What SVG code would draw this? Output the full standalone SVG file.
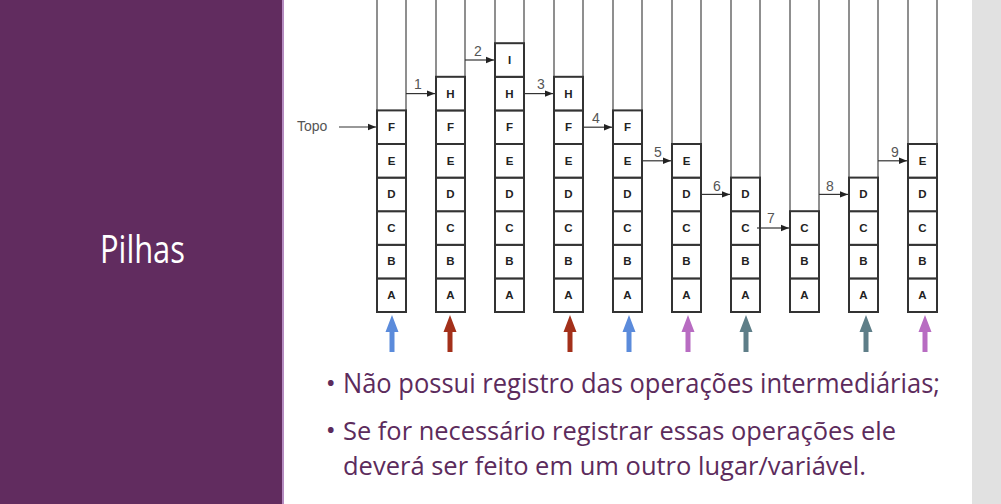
<svg xmlns="http://www.w3.org/2000/svg" xmlns:xlink="http://www.w3.org/1999/xlink" width="1001" height="504" viewBox="0 0 1001 504">
<style>
.wall{stroke:#6a6a6a;stroke-width:1.5;fill:none}
.cell{fill:#fff;stroke:#333;stroke-width:2}
.lt{font-family:"Liberation Sans",Arial,sans-serif;font-size:11.5px;font-weight:bold;fill:#222;text-anchor:middle}
.num{font-family:"Liberation Sans",Arial,sans-serif;font-size:14px;fill:#555;text-anchor:middle}
.con{stroke:#333;stroke-width:1.2;fill:none;marker-end:url(#ah)}
.bul{font-family:"Open Sans",sans-serif;font-size:27px;fill:#5c2b5c}
.bul2{font-family:"Open Sans",sans-serif;font-size:26px;fill:#5c2b5c}
.dot{font-family:"Open Sans",sans-serif;font-size:20px;font-weight:bold;fill:#5c2b5c}
</style>
<defs>
<marker id="ah" viewBox="0 0 10 10" refX="10" refY="5" markerWidth="8" markerHeight="8" markerUnits="userSpaceOnUse" orient="auto"><path d="M0,1 L10,5 L0,9 Z" fill="#222"/></marker>
<path id="up" d="M-2.5,352 L-2.5,332 L-6.5,332 L0,315 L6.5,332 L2.5,332 L2.5,352 Z"/>
</defs>
<rect x="0" y="0" width="1001" height="504" fill="#fff"/>
<rect x="0" y="0" width="283" height="504" fill="#612c5f"/>
<rect x="282" y="0" width="2" height="504" fill="#b58cc0"/>
<rect x="972" y="0" width="29" height="504" fill="#e1e1e1"/>
<text x="100" y="263" font-family="Open Sans, sans-serif" font-size="39" fill="#fff" textLength="85" lengthAdjust="spacingAndGlyphs">Pilhas</text>

<g id="topo">
<text x="297" y="131" font-family="Liberation Sans, Arial, sans-serif" font-size="14" fill="#555">Topo</text>
<line x1="339" y1="127" x2="376" y2="127" class="con"/>
</g>

<g id="stack1">
<line x1="377" y1="0" x2="377" y2="312" class="wall"/><line x1="406" y1="0" x2="406" y2="312" class="wall"/>
<rect x="377" y="278.4" width="29" height="33.6" class="cell"/><rect x="377" y="244.8" width="29" height="33.6" class="cell"/><rect x="377" y="211.2" width="29" height="33.6" class="cell"/><rect x="377" y="177.6" width="29" height="33.6" class="cell"/><rect x="377" y="144" width="29" height="33.6" class="cell"/><rect x="377" y="110.4" width="29" height="33.6" class="cell"/>
<text x="391.5" y="299" class="lt">A</text><text x="391.5" y="265" class="lt">B</text><text x="391.5" y="232" class="lt">C</text><text x="391.5" y="198" class="lt">D</text><text x="391.5" y="165" class="lt">E</text><text x="391.5" y="131" class="lt">F</text>
</g>
<g id="stack2">
<line x1="436" y1="0" x2="436" y2="312" class="wall"/><line x1="465" y1="0" x2="465" y2="312" class="wall"/>
<rect x="436" y="278.4" width="29" height="33.6" class="cell"/><rect x="436" y="244.8" width="29" height="33.6" class="cell"/><rect x="436" y="211.2" width="29" height="33.6" class="cell"/><rect x="436" y="177.6" width="29" height="33.6" class="cell"/><rect x="436" y="144" width="29" height="33.6" class="cell"/><rect x="436" y="110.4" width="29" height="33.6" class="cell"/><rect x="436" y="76.8" width="29" height="33.6" class="cell"/>
<text x="450.5" y="299" class="lt">A</text><text x="450.5" y="265" class="lt">B</text><text x="450.5" y="232" class="lt">C</text><text x="450.5" y="198" class="lt">D</text><text x="450.5" y="165" class="lt">E</text><text x="450.5" y="131" class="lt">F</text><text x="450.5" y="98" class="lt">H</text>
</g>
<g id="stack3">
<line x1="495" y1="0" x2="495" y2="312" class="wall"/><line x1="524" y1="0" x2="524" y2="312" class="wall"/>
<rect x="495" y="278.4" width="29" height="33.6" class="cell"/><rect x="495" y="244.8" width="29" height="33.6" class="cell"/><rect x="495" y="211.2" width="29" height="33.6" class="cell"/><rect x="495" y="177.6" width="29" height="33.6" class="cell"/><rect x="495" y="144" width="29" height="33.6" class="cell"/><rect x="495" y="110.4" width="29" height="33.6" class="cell"/><rect x="495" y="76.8" width="29" height="33.6" class="cell"/><rect x="495" y="43.2" width="29" height="33.6" class="cell"/>
<text x="509.5" y="299" class="lt">A</text><text x="509.5" y="265" class="lt">B</text><text x="509.5" y="232" class="lt">C</text><text x="509.5" y="198" class="lt">D</text><text x="509.5" y="165" class="lt">E</text><text x="509.5" y="131" class="lt">F</text><text x="509.5" y="98" class="lt">H</text><text x="509.5" y="64" class="lt">I</text>
</g>
<g id="stack4">
<line x1="554" y1="0" x2="554" y2="312" class="wall"/><line x1="583" y1="0" x2="583" y2="312" class="wall"/>
<rect x="554" y="278.4" width="29" height="33.6" class="cell"/><rect x="554" y="244.8" width="29" height="33.6" class="cell"/><rect x="554" y="211.2" width="29" height="33.6" class="cell"/><rect x="554" y="177.6" width="29" height="33.6" class="cell"/><rect x="554" y="144" width="29" height="33.6" class="cell"/><rect x="554" y="110.4" width="29" height="33.6" class="cell"/><rect x="554" y="76.8" width="29" height="33.6" class="cell"/>
<text x="568.5" y="299" class="lt">A</text><text x="568.5" y="265" class="lt">B</text><text x="568.5" y="232" class="lt">C</text><text x="568.5" y="198" class="lt">D</text><text x="568.5" y="165" class="lt">E</text><text x="568.5" y="131" class="lt">F</text><text x="568.5" y="98" class="lt">H</text>
</g>
<g id="stack5">
<line x1="613" y1="0" x2="613" y2="312" class="wall"/><line x1="642" y1="0" x2="642" y2="312" class="wall"/>
<rect x="613" y="278.4" width="29" height="33.6" class="cell"/><rect x="613" y="244.8" width="29" height="33.6" class="cell"/><rect x="613" y="211.2" width="29" height="33.6" class="cell"/><rect x="613" y="177.6" width="29" height="33.6" class="cell"/><rect x="613" y="144" width="29" height="33.6" class="cell"/><rect x="613" y="110.4" width="29" height="33.6" class="cell"/>
<text x="627.5" y="299" class="lt">A</text><text x="627.5" y="265" class="lt">B</text><text x="627.5" y="232" class="lt">C</text><text x="627.5" y="198" class="lt">D</text><text x="627.5" y="165" class="lt">E</text><text x="627.5" y="131" class="lt">F</text>
</g>
<g id="stack6">
<line x1="672" y1="0" x2="672" y2="312" class="wall"/><line x1="701" y1="0" x2="701" y2="312" class="wall"/>
<rect x="672" y="278.4" width="29" height="33.6" class="cell"/><rect x="672" y="244.8" width="29" height="33.6" class="cell"/><rect x="672" y="211.2" width="29" height="33.6" class="cell"/><rect x="672" y="177.6" width="29" height="33.6" class="cell"/><rect x="672" y="144" width="29" height="33.6" class="cell"/>
<text x="686.5" y="299" class="lt">A</text><text x="686.5" y="265" class="lt">B</text><text x="686.5" y="232" class="lt">C</text><text x="686.5" y="198" class="lt">D</text><text x="686.5" y="165" class="lt">E</text>
</g>
<g id="stack7">
<line x1="731" y1="0" x2="731" y2="312" class="wall"/><line x1="760" y1="0" x2="760" y2="312" class="wall"/>
<rect x="731" y="278.4" width="29" height="33.6" class="cell"/><rect x="731" y="244.8" width="29" height="33.6" class="cell"/><rect x="731" y="211.2" width="29" height="33.6" class="cell"/><rect x="731" y="177.6" width="29" height="33.6" class="cell"/>
<text x="745.5" y="299" class="lt">A</text><text x="745.5" y="265" class="lt">B</text><text x="745.5" y="232" class="lt">C</text><text x="745.5" y="198" class="lt">D</text>
</g>
<g id="stack8">
<line x1="790" y1="0" x2="790" y2="312" class="wall"/><line x1="819" y1="0" x2="819" y2="312" class="wall"/>
<rect x="790" y="278.4" width="29" height="33.6" class="cell"/><rect x="790" y="244.8" width="29" height="33.6" class="cell"/><rect x="790" y="211.2" width="29" height="33.6" class="cell"/>
<text x="804.5" y="299" class="lt">A</text><text x="804.5" y="265" class="lt">B</text><text x="804.5" y="232" class="lt">C</text>
</g>
<g id="stack9">
<line x1="849" y1="0" x2="849" y2="312" class="wall"/><line x1="878" y1="0" x2="878" y2="312" class="wall"/>
<rect x="849" y="278.4" width="29" height="33.6" class="cell"/><rect x="849" y="244.8" width="29" height="33.6" class="cell"/><rect x="849" y="211.2" width="29" height="33.6" class="cell"/><rect x="849" y="177.6" width="29" height="33.6" class="cell"/>
<text x="863.5" y="299" class="lt">A</text><text x="863.5" y="265" class="lt">B</text><text x="863.5" y="232" class="lt">C</text><text x="863.5" y="198" class="lt">D</text>
</g>
<g id="stack10">
<line x1="908" y1="0" x2="908" y2="312" class="wall"/><line x1="937" y1="0" x2="937" y2="312" class="wall"/>
<rect x="908" y="278.4" width="29" height="33.6" class="cell"/><rect x="908" y="244.8" width="29" height="33.6" class="cell"/><rect x="908" y="211.2" width="29" height="33.6" class="cell"/><rect x="908" y="177.6" width="29" height="33.6" class="cell"/><rect x="908" y="144" width="29" height="33.6" class="cell"/>
<text x="922.5" y="299" class="lt">A</text><text x="922.5" y="265" class="lt">B</text><text x="922.5" y="232" class="lt">C</text><text x="922.5" y="198" class="lt">D</text><text x="922.5" y="165" class="lt">E</text>
</g>

<g id="connectors">
<line x1="406" y1="93.6" x2="435" y2="93.6" class="con"/><text x="418" y="89" class="num">1</text>
<line x1="465" y1="60" x2="494" y2="60" class="con"/><text x="478" y="56" class="num">2</text>
<line x1="524" y1="93.6" x2="553" y2="93.6" class="con"/><text x="541" y="89" class="num">3</text>
<line x1="583" y1="127.2" x2="612" y2="127.2" class="con"/><text x="596" y="123" class="num">4</text>
<line x1="642" y1="160.8" x2="671" y2="160.8" class="con"/><text x="658" y="157" class="num">5</text>
<line x1="701" y1="194.4" x2="730" y2="194.4" class="con"/><text x="717" y="191" class="num">6</text>
<line x1="757" y1="228" x2="789" y2="228" class="con" stroke-width="2"/><text x="771" y="223" class="num">7</text>
<line x1="819" y1="194.4" x2="848" y2="194.4" class="con"/><text x="830" y="191" class="num">8</text>
<line x1="878" y1="160.8" x2="907" y2="160.8" class="con"/><text x="895" y="157" class="num">9</text>
</g>

<g id="pointers">
<use xlink:href="#up" x="392" fill="#5b8bdb"/>
<use xlink:href="#up" x="450" fill="#a3301a"/>
<use xlink:href="#up" x="570" fill="#a3301a"/>
<use xlink:href="#up" x="629" fill="#5b8bdb"/>
<use xlink:href="#up" x="688" fill="#b86cc2"/>
<use xlink:href="#up" x="746" fill="#5e7e88"/>
<use xlink:href="#up" x="866" fill="#5e7e88"/>
<use xlink:href="#up" x="925" fill="#b86cc2"/>
</g>

<g id="bullets">
<text x="327" y="390" class="dot">•</text>
<text x="343" y="393" class="bul" textLength="597" lengthAdjust="spacingAndGlyphs">Não possui registro das operações intermediárias;</text>
<text x="327" y="437" class="dot">•</text>
<text x="343" y="440" class="bul2" textLength="553" lengthAdjust="spacingAndGlyphs">Se for necessário registrar essas operações ele</text>
<text x="343" y="474.5" class="bul2" textLength="523" lengthAdjust="spacingAndGlyphs">deverá ser feito em um outro lugar/variável.</text>
</g>
</svg>
